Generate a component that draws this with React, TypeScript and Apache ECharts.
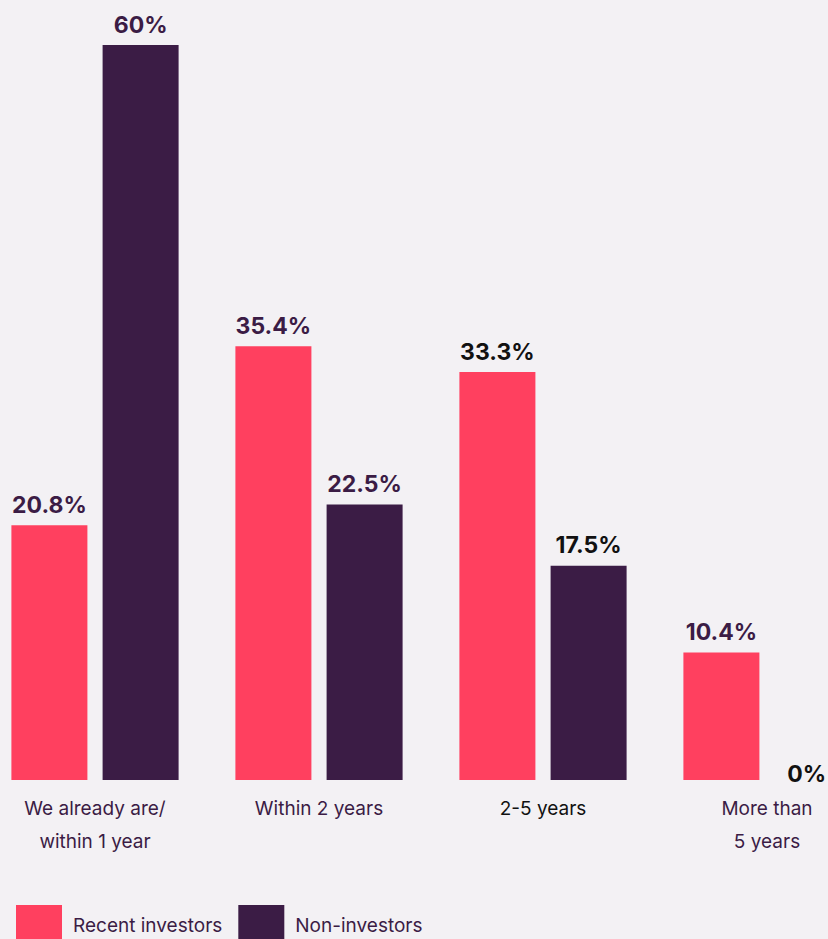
import React, { useEffect, useRef } from "react";
import * as echarts from "echarts";

const categories = ["We already are/\nwithin 1 year", "Within 2 years", "2-5 years", "More than\n5 years"];
const recentInvestors = [20.8, 35.4, 33.3, 10.4];
const nonInvestors = [60, 22.5, 17.5, 0];
const recentLabelColors = ["#3b1c45", "#3b1c45", "#111111", "#3b1c45"];
const nonLabelColors = ["#3b1c45", "#3b1c45", "#111111", "#111111"];
const categoryLabelColors = ["#3b1c45", "#3b1c45", "#111111", "#3b1c45"];
const seriesNames = ["Recent investors", "Non-investors"];

const PINK = "#ff405f";
const PURPLE = "#3b1c45";
const FONT = "Inter, 'Noto Sans', sans-serif";
const OFFSET = 17;

export default function App() {
  const ref = useRef<HTMLDivElement>(null);
  useEffect(() => {
    document.body.style.margin = "0";
    document.body.style.overflow = "hidden";
    document.body.style.background = "#f3f1f4";
    const chart = echarts.init(ref.current!, null, { renderer: "svg" });
    const mkData = (vals: number[], colors: string[]) =>
      vals.map((v, i) => ({
        value: v,
        label: v === 0 ? { color: colors[i], offset: [-6, 14] } : { color: colors[i] },
      }));
    const labelCommon = {
      show: true,
      position: "top" as const,
      distance: 9,
      fontFamily: FONT,
      fontWeight: "bold" as const,
      fontSize: 23,
      formatter: (p: any) => `${p.value}%`,
    };
    chart.setOption({
      animation: false,
      backgroundColor: "#f3f1f4",
      textStyle: { fontFamily: FONT },
      grid: { left: 0, right: 0, top: 45, bottom: 159, containLabel: false },
      xAxis: {
        type: "category",
        data: categories,
        axisLine: { show: false },
        axisTick: { show: false },
        axisLabel: {
          margin: 12,
          fontSize: 19,
          lineHeight: 33,
          fontFamily: FONT,
          color: (_v: any, i: number) => categoryLabelColors[i],
          interval: 0,
        },
      },
      yAxis: {
        type: "value",
        min: 0,
        max: 60,
        show: false,
        splitLine: { show: false },
      },
      legend: {
        left: 11 + OFFSET,
        top: 900,
        itemWidth: 46,
        itemHeight: 40,
        itemGap: 16,
        icon: "rect",
        textStyle: { fontSize: 19, color: PURPLE, fontFamily: FONT, padding: [0, 0, 0, 6] },
        data: seriesNames,
      },
      series: [
        {
          name: seriesNames[0],
          type: "bar",
          barWidth: 76,
          barGap: "20%",
          itemStyle: { color: PINK },
          label: labelCommon,
          data: mkData(recentInvestors, recentLabelColors),
        },
        {
          name: seriesNames[1],
          type: "bar",
          barWidth: 76,
          barGap: "20%",
          itemStyle: { color: PURPLE },
          label: labelCommon,
          data: mkData(nonInvestors, nonLabelColors),
        },
      ],
    });
    return () => chart.dispose();
  }, []);
  return (
    <div
      ref={ref}
      style={{ position: "fixed", left: -OFFSET, top: 0, width: 896, height: 939 }}
    />
  );
}
